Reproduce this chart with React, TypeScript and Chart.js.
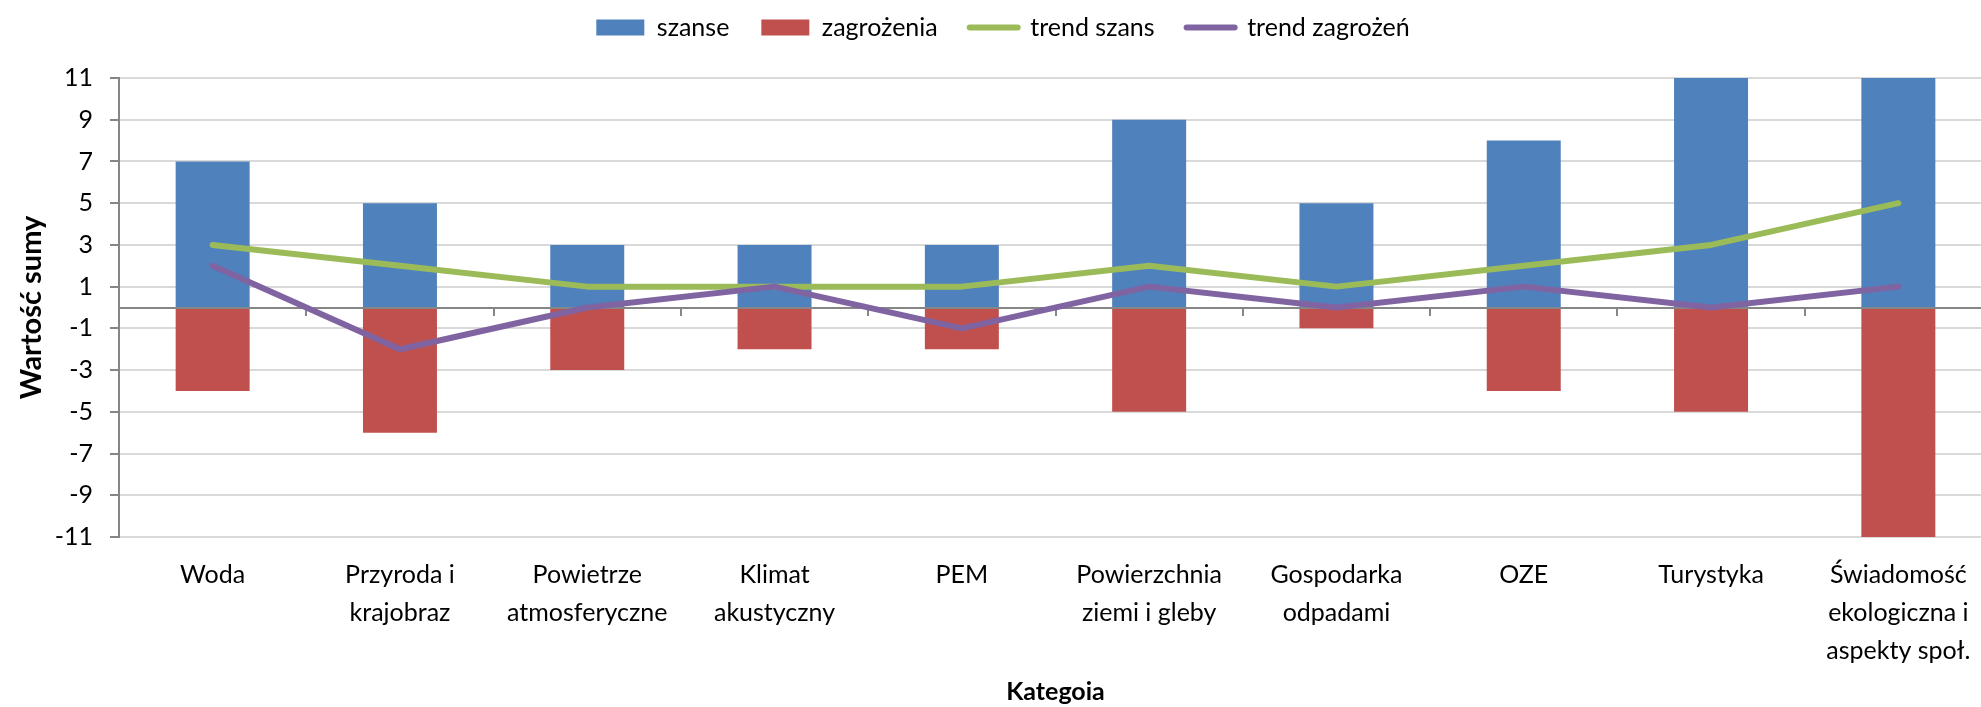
import React, { useEffect, useRef } from "react";
import { Chart, registerables, layouts } from "chart.js";

Chart.register(...registerables);

const categories: (string | string[])[] = [
  "Woda",
  ["Przyroda i", "krajobraz"],
  ["Powietrze", "atmosferyczne"],
  ["Klimat", "akustyczny"],
  "PEM",
  ["Powierzchnia", "ziemi i gleby"],
  ["Gospodarka", "odpadami"],
  "OZE",
  "Turystyka",
  ["Świadomość", "ekologiczna i", "aspekty społ."],
];

const szanse = [7, 5, 3, 3, 3, 9, 5, 8, 11, 11];
const zagrozenia = [-4, -6, -3, -2, -2, -5, -1, -4, -5, -11];
const trendSzans = [3, 2, 1, 1, 1, 2, 1, 2, 3, 5];
const trendZagrozen = [2, -2, 0, 1, -1, 1, 0, 1, 0, 1];

const yTickValues = [-11, -9, -7, -5, -3, -1, 1, 3, 5, 7, 9, 11];

const BLUE = "#4F81BD";
const RED = "#C0504D";
const GREEN = "#9BBB59";
const PURPLE = "#8064A2";
const AXIS = "#868686";
const GRID = "#D9D9D9";
const FONT = "Lato";
const LINE_W = 6;

const zeroAxisPlugin = {
  id: "zeroAxis",
  afterDatasetDraw(chart: any, args: any) {
    if (args.meta.type !== "bar") return;
    const { ctx, chartArea, scales } = chart;
    const y0 = Math.round(scales.y.getPixelForValue(0));
    ctx.save();
    ctx.strokeStyle = AXIS;
    ctx.lineWidth = 2;
    ctx.beginPath();
    ctx.moveTo(chartArea.left, y0);
    ctx.lineTo(chartArea.right, y0);
    ctx.stroke();
    const n = chart.data.labels.length;
    for (let i = 0; i < n - 1; i++) {
      const x = Math.round(
        (scales.x.getPixelForValue(i) + scales.x.getPixelForValue(i + 1)) / 2
      );
      ctx.beginPath();
      ctx.moveTo(x, y0);
      ctx.lineTo(x, y0 + 8);
      ctx.stroke();
    }
    ctx.restore();
  },
};

const spacerPlugin = {
  id: "legendSpacer",
  beforeInit(chart: any) {
    const box: any = {
      position: "top",
      weight: 900,
      fullSize: true,
      options: {},
      left: 0,
      top: 0,
      right: 0,
      bottom: 0,
      width: 0,
      height: 0,
      isHorizontal() {
        return true;
      },
      update(maxWidth: number) {
        this.width = maxWidth;
        this.height = 28;
      },
      draw() {},
    };
    layouts.addBox(chart, box);
  },
};

export default function App() {
  const ref = useRef<HTMLCanvasElement | null>(null);

  useEffect(() => {
    if (!ref.current) return;
    const chart = new Chart(ref.current, {
      type: "bar",
      data: {
        labels: categories as any,
        datasets: [
          {
            type: "bar",
            label: "szanse",
            data: szanse,
            backgroundColor: BLUE,
            grouped: false,
            order: 3,
            barPercentage: 0.395,
            categoryPercentage: 1,
          } as any,
          {
            type: "bar",
            label: "zagrożenia",
            data: zagrozenia,
            backgroundColor: RED,
            grouped: false,
            order: 4,
            barPercentage: 0.395,
            categoryPercentage: 1,
          } as any,
          {
            type: "line",
            label: "trend szans",
            data: trendSzans,
            borderColor: GREEN,
            backgroundColor: GREEN,
            borderWidth: LINE_W,
            pointRadius: 0,
            borderCapStyle: "round",
            borderJoinStyle: "round",
            order: 2,
          } as any,
          {
            type: "line",
            label: "trend zagrożeń",
            data: trendZagrozen,
            borderColor: PURPLE,
            backgroundColor: PURPLE,
            borderWidth: LINE_W,
            pointRadius: 0,
            borderCapStyle: "round",
            borderJoinStyle: "round",
            order: 1,
          } as any,
        ],
      },
      options: {
        animation: false,
        responsive: false,
        layout: { padding: { top: -17, left: 14, right: 14, bottom: 0 } },
        plugins: {
          tooltip: { enabled: false },
          legend: {
            position: "top",
            labels: {
              usePointStyle: true,
              pointStyleWidth: 48,
              boxHeight: 16,
              padding: 32,
              color: "#000",
              font: { family: FONT, size: 25 },
              generateLabels: (c: any) =>
                c.data.datasets.map((ds: any, i: number) => {
                  const isLine = ds.type === "line";
                  return {
                    text: ds.label,
                    datasetIndex: i,
                    fillStyle: isLine ? ds.borderColor : ds.backgroundColor,
                    strokeStyle: isLine ? ds.borderColor : ds.backgroundColor,
                    lineWidth: isLine ? LINE_W : 0,
                    lineCap: "round",
                    pointStyle: isLine ? "line" : "rect",
                    hidden: false,
                  };
                }),
            },
          },
        },
        scales: {
          x: {
            grid: { display: false, drawTicks: false },
            border: { display: false },
            ticks: {
              autoSkip: false,
              maxRotation: 0,
              padding: 19,
              color: "#000",
              font: { family: FONT, size: 25, lineHeight: 1.52 },
            },
            title: {
              display: true,
              text: "Kategoia",
              color: "#000",
              font: { family: FONT, size: 25, weight: "bold" },
              padding: { top: 0, bottom: 0 },
            },
            afterFit: (s: any) => {
              s.height = 170;
            },
          },
          y: {
            min: -11,
            max: 11,
            afterBuildTicks: (s: any) => {
              s.ticks = yTickValues.map((v) => ({ value: v }));
            },
            grid: {
              color: GRID,
              lineWidth: 2,
              tickColor: AXIS,
              tickLength: 9,
              tickWidth: 2,
            },
            border: { display: true, color: AXIS, width: 2 },
            ticks: {
              padding: 17,
              color: "#000",
              font: { family: FONT, size: 25 },
            },
            title: {
              display: true,
              text: "Wartość sumy",
              color: "#000",
              font: { family: FONT, size: 29, weight: "bold" },
              padding: { top: 0, bottom: 0 },
            },
            afterFit: (s: any) => {
              s.width = 105;
            },
          },
        },
      },
      plugins: [zeroAxisPlugin, spacerPlugin],
    });
    return () => chart.destroy();
  }, []);

  return (
    <div
      style={{
        position: "fixed",
        left: 0,
        top: 0,
        width: "100vw",
        height: "100vh",
        overflow: "hidden",
        background: "#fff",
      }}
    >
      <canvas
        ref={ref}
        width={2006}
        height={707}
        style={{ display: "block", width: 2006, height: 707 }}
      />
    </div>
  );
}
